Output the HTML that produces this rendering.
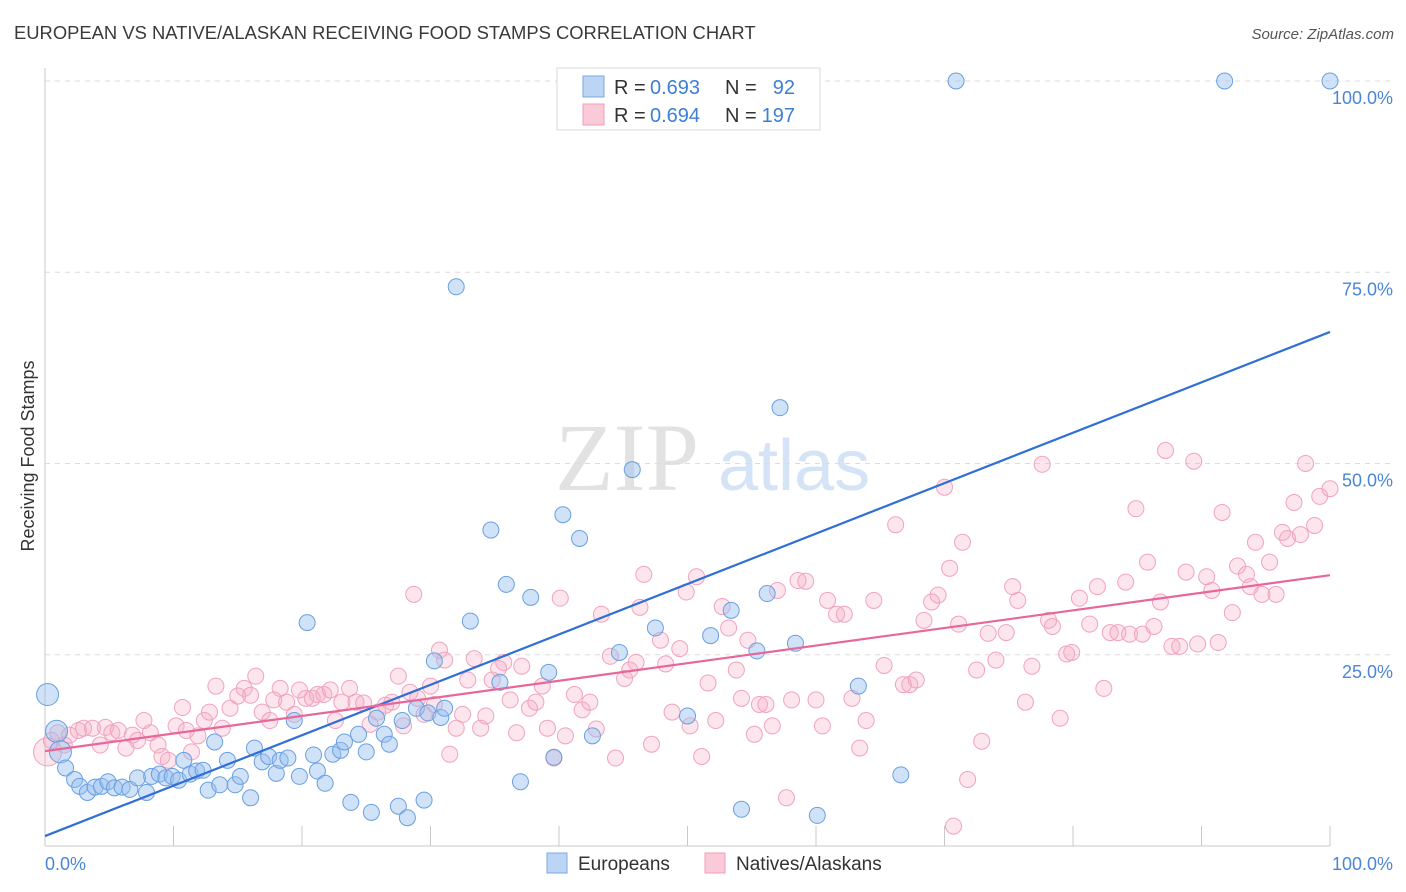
<!DOCTYPE html>
<html><head><meta charset="utf-8"><style>
body{margin:0;background:#fff;font-family:"Liberation Sans",sans-serif;}
#wrap{position:relative;width:1406px;height:892px;overflow:hidden;}
</style></head><body>
<div id="wrap">
<svg id="chart" width="1406" height="892" xmlns="http://www.w3.org/2000/svg"></svg>
</div>
<script>
const xTicks=[0,10,20,30,40,50,60,70,80,90,100];
const yTickVals=[25,50,75,100];
const yTickLabels=["25.0%","50.0%","75.0%","100.0%"];
const blueX=[0.2,0.9,1.2,1.6,2.3,2.7,3.3,3.9,4.4,4.9,5.4,6.0,6.6,7.2,7.9,8.3,8.9,9.4,9.9,10.4,10.8,11.3,11.8,12.3,12.7,13.2,13.6,14.2,14.8,15.2,16.0,16.3,16.9,17.4,18.0,18.3,18.9,19.4,19.8,20.4,20.9,21.2,21.8,22.4,23.0,23.3,23.8,24.4,25.0,25.4,25.8,26.4,26.8,27.5,27.8,28.2,28.9,29.5,29.8,30.3,30.8,31.1,32.0,33.1,34.7,35.4,35.9,37.0,37.8,39.2,39.6,40.3,41.6,42.6,44.7,45.7,47.5,50.0,51.8,53.4,54.2,55.4,56.2,57.2,58.4,60.1,63.3,66.6,70.9,91.8,100];
const blueY=[19.8,15.0,12.3,10.2,8.7,7.8,7.0,7.7,7.8,8.4,7.6,7.7,7.4,8.9,7.0,9.1,9.4,8.9,9.1,8.6,11.2,9.4,9.8,9.9,7.3,13.6,8.0,11.2,8.0,9.1,6.3,12.8,11.0,11.7,9.5,11.2,11.5,16.4,9.1,29.2,11.9,9.8,8.2,12.0,12.5,13.6,5.7,14.6,12.3,4.4,16.7,14.6,13.3,5.2,16.4,3.7,18.0,6.0,17.4,24.2,16.8,18.0,73.1,29.4,41.3,21.4,34.2,8.4,32.5,22.7,11.6,43.3,40.2,14.4,25.3,49.2,28.5,17.0,27.5,30.8,4.8,25.5,33.0,57.3,26.5,4.0,20.9,9.3,100,100,100];
const pinkX=[0.2,0.5,1.0,1.5,1.9,2.6,3.0,3.7,4.3,4.7,5.2,5.7,6.3,6.8,7.2,7.7,8.2,8.8,9.1,9.6,10.2,10.7,11.0,11.4,11.9,12.4,12.8,13.3,13.8,14.4,15.0,15.5,16.0,16.4,16.9,17.5,17.8,18.3,18.8,19.4,19.8,20.3,20.8,21.2,21.7,22.2,22.6,23.1,23.7,24.2,24.8,25.3,25.9,26.5,27.0,27.5,27.9,28.4,28.7,29.0,29.5,30.0,30.3,30.7,31.1,31.5,32.0,32.5,32.9,33.4,33.9,34.3,34.8,35.3,35.7,36.2,36.7,37.1,37.7,38.2,38.7,39.1,39.6,40.1,40.5,41.2,41.8,42.4,42.9,43.3,44.0,44.4,45.1,45.5,46.0,46.3,46.6,47.2,47.9,48.3,48.8,49.4,49.9,50.2,50.7,51.1,51.6,52.2,52.7,53.2,53.8,54.2,54.7,55.2,55.6,56.1,56.6,57.0,57.7,58.1,58.6,59.2,60.0,60.5,60.9,61.6,62.2,62.8,63.4,63.9,64.5,65.3,66.2,66.8,67.3,67.8,68.4,69.0,69.5,70.0,70.4,71.1,71.4,71.8,72.5,72.9,73.4,74.0,74.8,75.3,75.7,76.3,76.8,77.6,78.1,78.4,79.0,79.5,79.9,80.5,81.3,81.9,82.4,82.9,83.5,84.1,84.4,84.9,85.4,85.8,86.3,86.8,87.2,87.7,88.3,88.8,89.4,89.7,90.4,90.8,91.3,91.6,92.4,92.8,93.5,93.8,94.2,94.7,95.3,95.8,96.3,96.7,97.2,97.7,98.1,98.8,99.2,100,70.7];
const pinkY=[12.3,13.8,14.8,13.2,14.5,15.1,15.4,15.4,13.2,15.5,14.8,15.1,12.8,14.5,13.8,16.4,14.8,13.2,11.7,11.2,15.7,18.1,15.1,12.3,14.4,16.4,17.5,20.9,15.4,18.0,19.6,20.6,19.7,22.2,17.5,16.4,19.1,20.6,18.8,17.2,20.4,19.3,19.3,19.8,19.8,20.4,16.4,18.8,20.6,18.8,18.7,15.9,17.5,18.4,18.8,22.2,15.7,20.1,32.9,19.3,17.2,20.9,18.5,25.6,24.3,12.0,15.4,17.2,21.7,24.5,15.4,17.0,21.7,23.2,24.0,19.1,14.8,23.5,18.0,18.8,20.9,15.4,11.5,32.4,14.4,19.8,17.8,18.8,15.3,30.3,24.8,11.5,21.9,23.0,24.0,31.2,35.5,13.3,26.9,23.8,17.5,25.8,33.2,15.7,35.2,11.7,21.3,16.4,31.3,28.5,23.0,19.3,26.9,14.6,18.5,18.5,15.7,33.4,6.3,19.1,34.7,34.6,19.1,15.7,32.1,30.3,30.3,19.3,12.8,16.4,32.1,23.6,42.0,21.1,21.1,21.7,29.5,31.9,32.8,46.9,36.3,29.0,39.7,8.7,23.0,13.7,27.8,24.3,27.9,33.9,32.1,18.8,23.5,49.9,29.5,28.7,16.7,25.1,25.3,32.4,29.0,33.9,20.6,27.9,27.9,34.5,27.7,44.1,27.7,37.1,28.7,31.9,51.7,26.1,26.1,35.8,50.3,26.4,35.2,33.4,26.6,43.6,30.5,36.6,35.5,33.9,39.7,32.9,37.1,32.9,41.0,40.2,44.9,40.7,50.0,41.9,45.7,46.7,2.6];
const blueLine=[1.3,67.2];
const pinkLine=[12.4,35.4];

const svg=document.getElementById('chart');
const NS='http://www.w3.org/2000/svg';
const X0=45,X1=1330,Y0=846,Y100=81;
const sx=v=>X0+(X1-X0)*v/100;
const sy=v=>Y0-(Y0-Y100)*v/100;
function mk(tag,attrs,parent){const e=document.createElementNS(NS,tag);for(const k in attrs)e.setAttribute(k,attrs[k]);(parent||svg).appendChild(e);return e;}

let t=mk('text',{x:14,y:39,'font-size':18.4,fill:'#3a3a3a'});t.textContent='EUROPEAN VS NATIVE/ALASKAN RECEIVING FOOD STAMPS CORRELATION CHART';

t=mk('text',{x:1394,y:39,'font-size':15,fill:'#555','font-style':'italic','text-anchor':'end'});t.textContent='Source: ZipAtlas.com';


t=mk('text',{x:555,y:490,'font-size':96,fill:'#e2e2e2','font-family':'Liberation Serif, serif'});t.textContent='ZIP';

t=mk('text',{x:718,y:490,'font-size':72,fill:'#d4e3f5'});t.textContent='atlas';


yTickVals.forEach((v,i)=>{
 const g=mk('line',{x1:X0,x2:1394,y1:sy(v),y2:sy(v),stroke:'#dcdcdc','stroke-dasharray':'5,5'});
 
 const l=mk('text',{x:1393,y:sy(v)+23,'font-size':18,fill:'#4a86d8','text-anchor':'end'});l.textContent=yTickLabels[i];
 
});
let a=mk('line',{x1:X0,x2:X0,y1:68,y2:Y0,stroke:'#c8c8c8'});
a=mk('line',{x1:X0,x2:X1,y1:Y0,y2:Y0,stroke:'#c8c8c8'});
xTicks.forEach(v=>{const k=mk('line',{x1:sx(v),x2:sx(v),y1:826,y2:Y0,stroke:'#c8c8c8'});});
t=mk('text',{x:45,y:870,'font-size':18,fill:'#4a86d8'});t.textContent='0.0%';
t=mk('text',{x:1393,y:870,'font-size':18,fill:'#4a86d8','text-anchor':'end'});t.textContent='100.0%';
t=mk('text',{x:34,y:456,'font-size':18,fill:'#333','text-anchor':'middle',transform:'rotate(-90 34 456)'});t.textContent='Receiving Food Stamps';


function rad(x,y,i,pink){if(pink&&i===0)return 14;if(!pink&&i<=2)return 11;return 8;}
pinkX.forEach((x,i)=>{const c=mk('circle',{cx:sx(x),cy:sy(pinkY[i]),r:rad(x,pinkY[i],i,true),fill:'rgba(246,170,195,0.3)',stroke:'#f0a3bc','stroke-width':1});
 });
blueX.forEach((x,i)=>{const c=mk('circle',{cx:sx(x),cy:sy(blueY[i]),r:rad(x,blueY[i],i,false),fill:'rgba(150,190,240,0.45)',stroke:'#6a9fe0','stroke-width':1});
 });
let ln=mk('line',{x1:sx(0),y1:sy(blueLine[0]),x2:sx(100),y2:sy(blueLine[1]),stroke:'#2f6fd6','stroke-width':2.2});

ln=mk('line',{x1:sx(0),y1:sy(pinkLine[0]),x2:sx(100),y2:sy(pinkLine[1]),stroke:'#e8679a','stroke-width':2.2});


const lg=mk('g',{});
mk('rect',{x:557,y:68,width:263,height:62,fill:'#fff',stroke:'#dadada'},lg);
[['#bcd5f5','#7aa8e4','0.693','92',86],['#fbcad9','#ef9fb9','0.694','197',114]].forEach(r=>{
 const s=mk('rect',{x:583,y:r[4]-10,width:21,height:21,fill:r[0],stroke:r[1]},lg);
 
 let tx=mk('text',{x:614,y:r[4]+8,'font-size':20,fill:'#333'},lg);tx.textContent='R =';
 
 tx=mk('text',{x:650,y:r[4]+8,'font-size':20,fill:'#3d7fd6'},lg);tx.textContent=r[2];
 
 tx=mk('text',{x:725,y:r[4]+8,'font-size':20,fill:'#333'},lg);tx.textContent='N =';
 
 tx=mk('text',{x:795,y:r[4]+8,'font-size':20,fill:'#3d7fd6','text-anchor':'end'},lg);tx.textContent=r[3];
 
});
[['#bcd5f5','#7aa8e4','Europeans',547],['#fbcad9','#ef9fb9','Natives/Alaskans',705]].forEach(r=>{
 const s=mk('rect',{x:r[3],y:853,width:20,height:20,fill:r[0],stroke:r[1]});
 
 const tx=mk('text',{x:r[3]+31,y:870,'font-size':19,fill:'#333'});tx.textContent=r[2];
 
});
</script>
</body></html>
